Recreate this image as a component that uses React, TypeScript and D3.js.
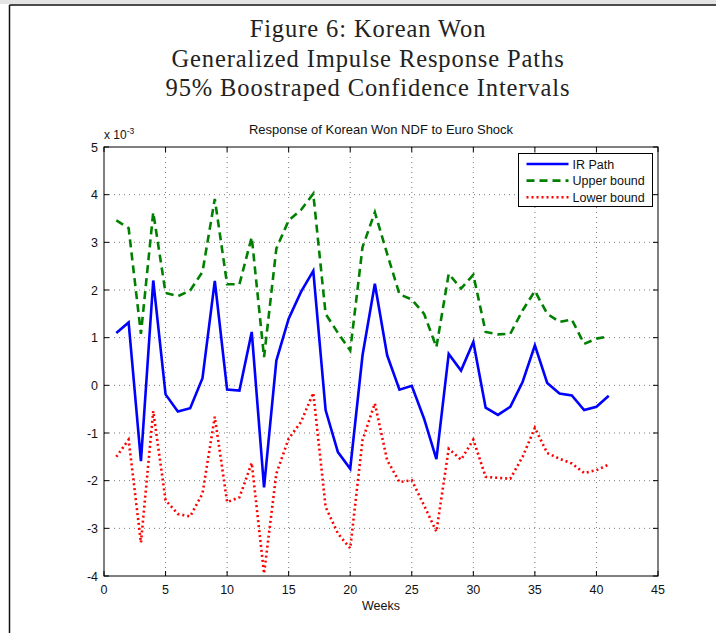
import React from "react";
import * as d3 from "d3";

const weeks = d3.range(1, 42);

const irPath = [
  1.1, 1.32, -1.59, 2.2, -0.19, -0.55, -0.48, 0.15, 2.19, -0.09,
  -0.11, 1.12, -2.14, 0.52, 1.4, 1.96, 2.4, -0.52, -1.4, -1.75,
  0.63, 2.13, 0.63, -0.09, -0.01, -0.7, -1.55, 0.66, 0.31, 0.91,
  -0.47, -0.62, -0.45, 0.07, 0.84, 0.05, -0.17, -0.21, -0.52, -0.45,
  -0.22,
];

const upperBound = [
  3.46, 3.3, 1.08, 3.63, 1.94, 1.87, 1.99, 2.38, 3.91, 2.12,
  2.12, 3.11, 0.59, 2.87, 3.46, 3.68, 4.02, 1.5, 1.1, 0.73,
  2.9, 3.63, 2.76, 1.91, 1.8, 1.5, 0.8, 2.34, 2.03, 2.32,
  1.12, 1.07, 1.08, 1.57, 1.98, 1.5, 1.33, 1.38, 0.87, 0.98,
  1.03,
];

const lowerBound = [
  -1.5, -1.14, -3.3, -0.54, -2.41, -2.7, -2.75, -2.27, -0.66, -2.45,
  -2.35, -1.63, -3.95, -1.85, -1.12, -0.77, -0.16, -2.55, -3.11, -3.42,
  -1.15, -0.38, -1.57, -2.03, -1.99, -2.52, -3.07, -1.33, -1.56, -1.14,
  -1.92, -1.94, -1.96, -1.5, -0.89, -1.42, -1.54, -1.64, -1.84, -1.78,
  -1.66,
];

const xTicks = [0, 5, 10, 15, 20, 25, 30, 35, 40, 45];
const yTicks = [-4, -3, -2, -1, 0, 1, 2, 3, 4, 5];

const titleLines = [
  "Figure 6: Korean Won",
  "Generalized Impulse Response Paths",
  "95% Boostraped Confidence Intervals",
];

const series = [
  { name: "IR Path", values: irPath, color: "#0000ff", dash: "none" },
  { name: "Upper bound", values: upperBound, color: "#008000", dash: "8,5" },
  { name: "Lower bound", values: lowerBound, color: "#ff0000", dash: "2,3" },
];

const App = () => {
  const width = 716;
  const height = 635;
  const margin = { top: 147, right: 58, bottom: 60, left: 104 };
  const innerWidth = 658 - margin.left;
  const innerHeight = 576 - margin.top;

  const x = d3.scaleLinear().domain([0, 45]).range([0, innerWidth]);
  const y = d3.scaleLinear().domain([-4, 5]).range([innerHeight, 0]);

  const line = d3
    .line<number>()
    .x((_, i) => x(weeks[i]))
    .y((d) => y(d));

  const sans = "'Liberation Sans', Arial, sans-serif";

  return (
    <svg
      width={width}
      height={height}
      style={{ position: "absolute", left: 0, top: 0, background: "#fff" }}
      fontFamily={sans}
    >
      {/* page frame */}
      <rect x={0} y={0} width={width} height={4} fill="#e4e4e4" />
      <line x1={9.5} x2={width} y1={5} y2={5} stroke="#111" strokeWidth={1.5} />
      <line x1={9.5} x2={9.5} y1={5} y2={633} stroke="#111" strokeWidth={1.5} />

      {/* Title */}
      {titleLines.map((t, i) => (
        <text
          key={t}
          x={368}
          y={37 + i * 29.5}
          textAnchor="middle"
          fontSize={24.5}
          letterSpacing={0.9}
          fontFamily="'Liberation Serif', 'DejaVu Serif', serif"
          fill="#222"
        >
          {t}
        </text>
      ))}

      <g transform={`translate(${margin.left}, ${margin.top})`}>
        {/* grid */}
        {xTicks.slice(1, -1).map((t) => (
          <line
            key={`gx-${t}`}
            x1={x(t)}
            x2={x(t)}
            y1={0}
            y2={innerHeight}
            stroke="#555"
            strokeWidth={0.8}
            strokeDasharray="1,4"
          />
        ))}
        {yTicks.slice(1, -1).map((t) => (
          <line
            key={`gy-${t}`}
            x1={0}
            x2={innerWidth}
            y1={y(t)}
            y2={y(t)}
            stroke="#555"
            strokeWidth={0.8}
            strokeDasharray="1,4"
          />
        ))}

        {/* series */}
        {series.map((s) => (
          <path
            key={s.name}
            d={line(s.values) || ""}
            fill="none"
            stroke={s.color}
            strokeWidth={2.6}
            strokeDasharray={s.dash}
            strokeLinejoin="miter"
          />
        ))}

        {/* frame */}
        <rect
          x={0}
          y={0}
          width={innerWidth}
          height={innerHeight}
          fill="none"
          stroke="#000"
          strokeWidth={1}
        />

        {/* ticks */}
        {xTicks.map((t) => (
          <g key={`tx-${t}`}>
            <line x1={x(t)} x2={x(t)} y1={innerHeight} y2={innerHeight - 5} stroke="#000" />
            <line x1={x(t)} x2={x(t)} y1={0} y2={5} stroke="#000" />
            <text x={x(t)} y={innerHeight + 18} textAnchor="middle" fontSize={12.5} fill="#111">
              {t}
            </text>
          </g>
        ))}
        {yTicks.map((t) => (
          <g key={`ty-${t}`}>
            <line x1={0} x2={5} y1={y(t)} y2={y(t)} stroke="#000" />
            <line x1={innerWidth} x2={innerWidth - 5} y1={y(t)} y2={y(t)} stroke="#000" />
            <text x={-6} y={y(t) + 4.5} textAnchor="end" fontSize={12.5} fill="#111">
              {t}
            </text>
          </g>
        ))}

        {/* exponent */}
        <text x={0} y={-8} fontSize={12} fill="#111">
          x 10
          <tspan dy={-5} fontSize={8.5}>
            -3
          </tspan>
        </text>

        {/* subtitle */}
        <text x={innerWidth / 2} y={-13} textAnchor="middle" fontSize={13} fill="#111">
          Response of Korean Won NDF to Euro Shock
        </text>

        {/* x label */}
        <text x={innerWidth / 2} y={innerHeight + 34} textAnchor="middle" fontSize={12.5} fill="#111">
          Weeks
        </text>

        {/* legend */}
        <g transform={`translate(${518.5 - margin.left}, ${153.5 - margin.top})`}>
          <rect width={134} height={53} fill="#fff" stroke="#000" strokeWidth={1} />
          {series.map((s, i) => (
            <g key={`lg-${s.name}`} transform={`translate(0, ${10.5 + i * 16.6})`}>
              <line
                x1={8}
                x2={50}
                y1={0}
                y2={0}
                stroke={s.color}
                strokeWidth={2.6}
                strokeDasharray={s.dash}
              />
              <text x={54} y={4.5} fontSize={12.5} fill="#111">
                {s.name}
              </text>
            </g>
          ))}
        </g>
      </g>
    </svg>
  );
};

export default App;
